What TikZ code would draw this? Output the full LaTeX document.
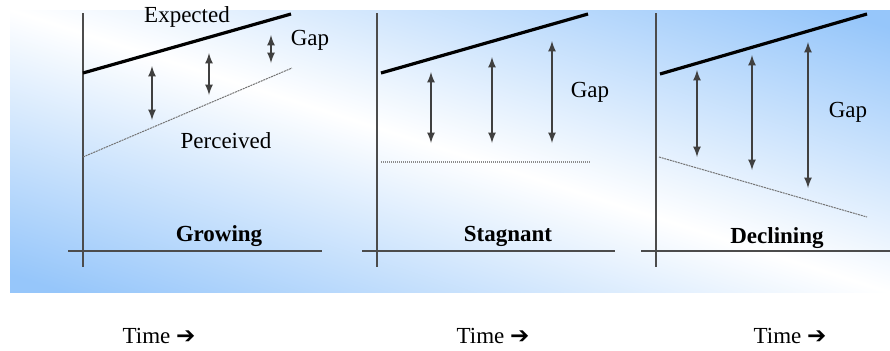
\documentclass[tikz,border=0pt]{standalone}
\usepackage{fontspec}
\setmainfont{Liberation Serif}
\newfontfamily\arrowfont{DejaVu Sans}
\definecolor{bgblue}{RGB}{150,198,250}
\pgfdeclareverticalshading{bgfade}{100bp}{color(0bp)=(bgblue); color(29bp)=(bgblue);
  color(50bp)=(white); color(71bp)=(bgblue); color(100bp)=(bgblue)}
\begin{document}
\begin{tikzpicture}[x=0.5pt, y=-0.5pt, >=latex,
  font=\fontsize{11.5}{13}\selectfont,
  axis/.style={line width=0.75pt, black!70},
  expected/.style={line width=1.6pt},
  perceived/.style={line width=0.5pt, black!55, dash pattern=on 1pt off 0.4pt},
  flatline/.style={line width=1pt, black!45, dash pattern=on 0.5pt off 0.5pt},
  gaparrow/.style={<->, line width=0.8pt, black!75},
  title/.style={font=\fontsize{11.5}{13}\selectfont\bfseries}]
  \useasboundingbox (0,0) rectangle (890,350);
  % background
  \begin{scope}
    \clip (10,10) rectangle (890,292);
    \shade[shading=bgfade, transform canvas={rotate around={-17.8:(450,151)}}]
      (-80,-149) rectangle (980,451);
  \end{scope}

  % growing
  \draw[axis] (83,13) -- (83,267);
  \draw[axis] (68,251) -- (322,251);
  \draw[expected] (83,73) -- (291,14);
  \draw[perceived] (83,157) -- (292,68);
  \draw[gaparrow] (152,66) -- (152,120);
  \draw[gaparrow] (209,53) -- (209,95);
  \draw[gaparrow] (271,35) -- (271,63);
  \node (exp1) at (187,17) {Expected};
  \node (gap1) at (310,40) {Gap};
  \node (per1) at (226,141) {Perceived};
  \node[title] (grow) at (219,236) {Growing};

  % stagnant
  \draw[axis] (377,13) -- (377,267);
  \draw[axis] (362,251) -- (615,251);
  \draw[expected] (381,73) -- (588,14);
  \draw[flatline] (381,162) -- (590,162);
  \draw[gaparrow] (431,72) -- (431,143);
  \draw[gaparrow] (492,57) -- (492,143);
  \draw[gaparrow] (552,41) -- (552,143);
  \node (gap2) at (590,92) {Gap};
  \node[title] (stag) at (508,236) {Stagnant};

  % declining
  \draw[axis] (656,13) -- (656,267);
  \draw[axis] (641,251) -- (890,251);
  \draw[expected] (660,74) -- (867,14);
  \draw[perceived] (659,157) -- (867,217);
  \draw[gaparrow] (697,70) -- (697,157);
  \draw[gaparrow] (752,55) -- (752,170);
  \draw[gaparrow] (808,42) -- (808,188);
  \node (gap3) at (848,112) {Gap};
  \node[title] (decl) at (777,238) {Declining};

  % time labels
  \node (time1) at (159,336) {Time {\arrowfont\bfseries ➔}};
  \node (time2) at (493,336) {Time {\arrowfont\bfseries ➔}};
  \node (time3) at (790,336) {Time {\arrowfont\bfseries ➔}};
\end{tikzpicture}
\end{document}
